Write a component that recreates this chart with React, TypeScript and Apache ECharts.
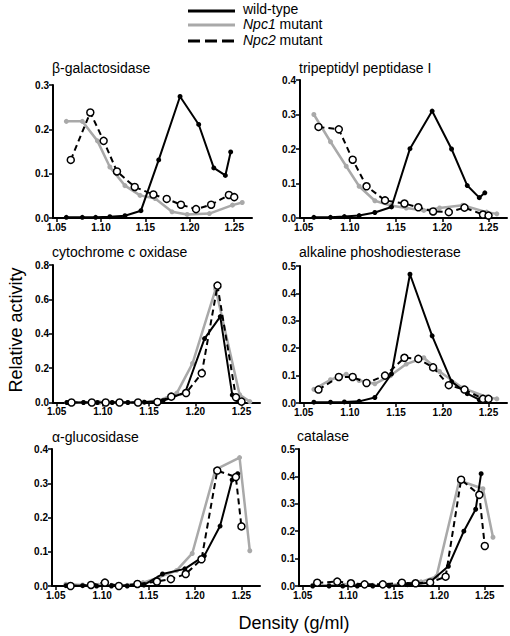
import React, { useEffect, useRef } from "react";
import * as echarts from "echarts";

// Fraction densities (g/ml) per genotype
const wtDensity = [1.061, 1.079, 1.094, 1.11, 1.127, 1.145, 1.165, 1.189, 1.21, 1.227, 1.24, 1.246];
const npc1Density = [1.061, 1.079, 1.096, 1.11, 1.127, 1.144, 1.161, 1.18, 1.197, 1.222, 1.248, 1.259];
const npc2Density = [1.066, 1.088, 1.103, 1.118, 1.138, 1.159, 1.174, 1.19, 1.207, 1.224, 1.244, 1.25];

const xTickValues = [1.05, 1.1, 1.15, 1.2, 1.25];

// beta-galactosidase
const galWT = [0.0015, 0.0015, 0.0015, 0.003, 0.005, 0.0165, 0.131, 0.274, 0.211, 0.113, 0.096, 0.149];
const galNpc1 = [0.218, 0.218, 0.174, 0.115, 0.073, 0.051, 0.044, 0.014, 0.008, 0.01, 0.029, 0.035];
const galNpc2 = [0.131, 0.238, 0.174, 0.105, 0.07, 0.053, 0.043, 0.03, 0.02, 0.03, 0.052, 0.047];

// tripeptidyl peptidase I
const tppWT = [0.002, 0.002, 0.004, 0.007, 0.016, 0.032, 0.201, 0.31, 0.2, 0.094, 0.059, 0.073];
const tppNpc1 = [0.3, 0.221, 0.15, 0.092, 0.05, 0.036, 0.029, 0.022, 0.029, 0.037, 0.017, 0.012];
const tppNpc2 = [0.264, 0.257, 0.169, 0.092, 0.051, 0.042, 0.031, 0.019, 0.017, 0.03, 0.01, 0.007];

// cytochrome c oxidase
const coxWT = [0, 0, 0, 0, 0, 0.002, 0.01, 0.058, 0.372, 0.5, 0.044, 0.015];
const coxNpc1 = [0, 0, 0, 0, 0, 0.003, 0.012, 0.055, 0.228, 0.66, 0.045, 0.005];
const coxNpc2 = [0, 0, 0, 0, 0, 0.003, 0.034, 0.055, 0.17, 0.68, 0.03, 0.005];

// alkaline phosphodiesterase
const apdWT = [0.003, 0.003, 0.004, 0.006, 0.02, 0.106, 0.47, 0.245, 0.078, 0.034, 0.012, 0.015];
const apdNpc1 = [0.05, 0.085, 0.105, 0.082, 0.07, 0.1, 0.142, 0.165, 0.115, 0.055, 0.022, 0.015];
const apdNpc2 = [0.049, 0.095, 0.095, 0.073, 0.1, 0.165, 0.161, 0.13, 0.065, 0.049, 0.015, 0.015];

// alpha-glucosidase
const glcWT = [0.001, 0.001, 0, 0, 0, 0.003, 0.035, 0.05, 0.088, 0.175, 0.31, 0.328];
const glcNpc1 = [0.005, 0.003, 0.002, 0.002, 0.002, 0.01, 0.025, 0.045, 0.095, 0.34, 0.375, 0.103];
const glcNpc2 = [0, 0.003, 0.01, 0, 0.006, 0.013, 0.02, 0.035, 0.078, 0.337, 0.318, 0.174];

// catalase
const catWT = [0, 0, 0, 0, 0, 0, 0.005, 0.012, 0.072, 0.2, 0.28, 0.41];
const catNpc1 = [0.003, 0.003, 0.003, 0.003, 0.003, 0.003, 0.008, 0.015, 0.035, 0.385, 0.355, 0.178];
const catNpc2 = [0.012, 0.016, 0.01, 0.006, 0.006, 0.012, 0.01, 0.013, 0.034, 0.388, 0.333, 0.146];

const panelTitles = [
  "β-galactosidase",
  "tripeptidyl peptidase I",
  "cytochrome c oxidase",
  "alkaline phoshodiesterase",
  "α-glucosidase",
  "catalase",
];
const yMaxes = [0.3, 0.4, 0.8, 0.5, 0.4, 0.5];
const yIntervals = [0.1, 0.1, 0.2, 0.1, 0.1, 0.1];
const panelData = [
  [galWT, galNpc1, galNpc2],
  [tppWT, tppNpc1, tppNpc2],
  [coxWT, coxNpc1, coxNpc2],
  [apdWT, apdNpc1, apdNpc2],
  [glcWT, glcNpc1, glcNpc2],
  [catWT, catNpc1, catNpc2],
];

const layout = [
  { left: 53, top: 85, width: 199, height: 133, tx: 52, ty: 68 },
  { left: 300, top: 80, width: 207, height: 138, tx: 299, ty: 68 },
  { left: 53, top: 265, width: 207, height: 137.5, tx: 52, ty: 252 },
  { left: 300, top: 266, width: 207, height: 137, tx: 299, ty: 252 },
  { left: 52, top: 449, width: 208, height: 137, tx: 52, ty: 437 },
  { left: 299, top: 449, width: 204, height: 137, tx: 297, ty: 436 },
];

const FONT = "'Liberation Sans', Arial, Helvetica, sans-serif";
const GRAY = "#a9a9a9";

const zip = (xs: number[], ys: number[]) => xs.map((x, i) => [x, ys[i]]);

export default function App() {
  const ref = useRef<HTMLDivElement>(null);
  useEffect(() => {
    if (!ref.current) return;
    const chart = echarts.init(ref.current, undefined, { renderer: "svg" });

    const grid = layout.map((l) => ({ left: l.left, top: l.top, width: l.width, height: l.height, containLabel: false }));
    const xAxis = layout.map((_, i) => ({
      type: "value",
      gridIndex: i,
      min: 1.046,
      max: 1.27,
      splitLine: { show: false },
      axisLine: { show: true, onZero: false, lineStyle: { color: "#000", width: 2 } },
      axisTick: { show: true, length: 4, customValues: xTickValues, lineStyle: { color: "#000", width: 1.5 } },
      axisLabel: {
        customValues: xTickValues,
        formatter: (v: number) => v.toFixed(2),
        color: "#000",
        fontSize: 10,
        fontWeight: "bold",
        fontFamily: FONT,
        margin: 4,
      },
    }));
    const yAxis = layout.map((_, i) => ({
      type: "value",
      gridIndex: i,
      min: 0,
      max: yMaxes[i],
      interval: yIntervals[i],
      splitLine: { show: false },
      axisLine: { show: true, lineStyle: { color: "#000", width: 2 } },
      axisTick: { show: true, length: 4, lineStyle: { color: "#000", width: 1.5 } },
      axisLabel: {
        formatter: (v: number) => v.toFixed(1),
        color: "#000",
        fontSize: 10,
        fontWeight: "bold",
        fontFamily: FONT,
        margin: 4,
      },
    }));

    const series: any[] = [];
    panelData.forEach(([wt, n1, n2], i) => {
      series.push({
        type: "line",
        name: "Npc1 mutant",
        xAxisIndex: i,
        yAxisIndex: i,
        data: zip(npc1Density, n1),
        symbol: "circle",
        symbolSize: 5,
        lineStyle: { color: GRAY, width: 2.5 },
        itemStyle: { color: GRAY },
        z: 2,
      });
      series.push({
        type: "line",
        name: "wild-type",
        xAxisIndex: i,
        yAxisIndex: i,
        data: zip(wtDensity, wt),
        symbol: "circle",
        symbolSize: 5,
        lineStyle: { color: "#000", width: 2 },
        itemStyle: { color: "#000" },
        z: 3,
      });
      series.push({
        type: "line",
        name: "Npc2 mutant",
        xAxisIndex: i,
        yAxisIndex: i,
        data: zip(npc2Density, n2),
        symbol: "circle",
        symbolSize: 7,
        lineStyle: { color: "#000", width: 2, type: [6, 4] },
        itemStyle: { color: "#fff", borderColor: "#000", borderWidth: 1.5 },
        z: 4,
      });
    });

    const graphic: any[] = [];
    layout.forEach((l, i) => {
      graphic.push({
        type: "text",
        x: l.tx,
        y: l.ty,
        style: {
          text: panelTitles[i],
          fontSize: 14,
          fontFamily: FONT,
          fill: "#000",
          textAlign: "left",
          textVerticalAlign: "middle",
        },
      });
    });
    // legend
    const legendRows = [
      { y: 11, ty: 9, text: "wild-type", color: "#000", dash: null as any, width: 3 },
      { y: 25, ty: 24, text: "{i|Npc1} mutant", color: GRAY, dash: null as any, width: 3 },
      { y: 41, ty: 40, text: "{i|Npc2} mutant", color: "#000", dash: [12, 5], width: 3 },
    ];
    legendRows.forEach((r) => {
      graphic.push({
        type: "line",
        shape: { x1: 188, y1: r.y, x2: 235, y2: r.y },
        style: { stroke: r.color, lineWidth: r.width, lineDash: r.dash || undefined },
      });
      graphic.push({
        type: "text",
        x: 243,
        y: r.ty,
        style: {
          text: r.text,
          fontSize: 14,
          fontFamily: FONT,
          fill: "#000",
          textAlign: "left",
          textVerticalAlign: "middle",
          rich: { i: { fontStyle: "italic", fontSize: 14, fontFamily: FONT, fill: "#000" } },
        },
      });
    });
    // axis titles
    graphic.push({
      type: "text",
      x: 16,
      y: 330,
      rotation: Math.PI / 2,
      style: {
        text: "Relative activity",
        fontSize: 18,
        fontFamily: FONT,
        fill: "#000",
        textAlign: "center",
        textVerticalAlign: "middle",
      },
    });
    graphic.push({
      type: "text",
      x: 294,
      y: 623,
      style: {
        text: "Density (g/ml)",
        fontSize: 18,
        fontFamily: FONT,
        fill: "#000",
        textAlign: "center",
        textVerticalAlign: "middle",
      },
    });

    chart.setOption({
      animation: false,
      backgroundColor: "#fff",
      grid,
      xAxis,
      yAxis,
      series,
      graphic,
    } as any);
    return () => chart.dispose();
  }, []);
  return (
    <div
      ref={ref}
      style={{ position: "absolute", left: 0, top: 0, width: 510, height: 636 }}
    />
  );
}
